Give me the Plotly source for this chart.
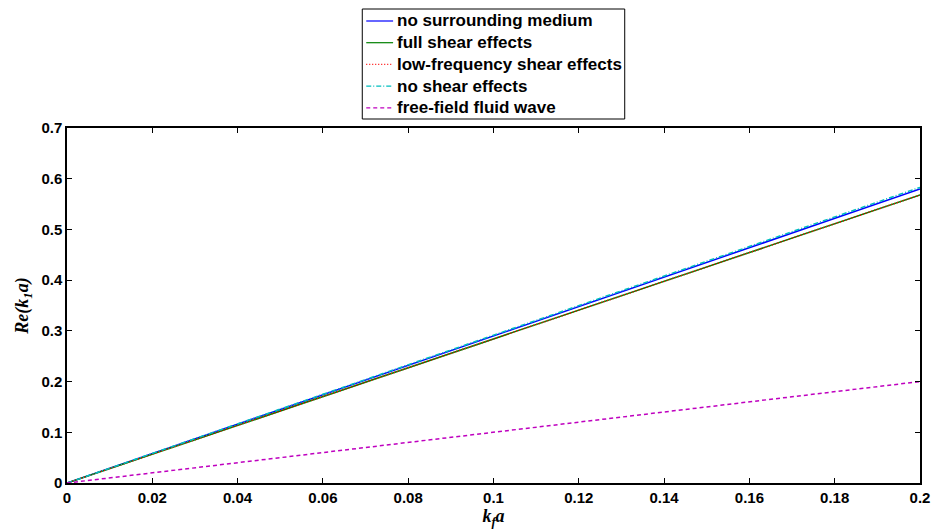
import plotly.graph_objects as go

# Non-dimensional frequency k_f a
ka = [0.0, 0.02, 0.04, 0.06, 0.08, 0.10, 0.12, 0.14, 0.16, 0.18, 0.20]

# Re(k_1 a) for each model
no_medium = [0.0, 0.058, 0.116, 0.174, 0.232, 0.290, 0.348, 0.406, 0.464, 0.522, 0.580]
full_shear = [0.0, 0.0568, 0.1136, 0.1704, 0.2272, 0.284, 0.3408, 0.3976, 0.4544, 0.5112, 0.568]
low_freq_shear = [0.0, 0.0568, 0.1136, 0.1704, 0.2272, 0.284, 0.3408, 0.3976, 0.4544, 0.5112, 0.568]
no_shear = [0.0, 0.0583, 0.1166, 0.1749, 0.2332, 0.2915, 0.3498, 0.4081, 0.4664, 0.5247, 0.583]
free_field = [0.0, 0.02, 0.04, 0.06, 0.08, 0.10, 0.12, 0.14, 0.16, 0.18, 0.20]

x_ticks = [0, 0.02, 0.04, 0.06, 0.08, 0.1, 0.12, 0.14, 0.16, 0.18, 0.2]
x_tick_labels = ["0", "0.02", "0.04", "0.06", "0.08", "0.1", "0.12", "0.14", "0.16", "0.18", "0.2"]
y_ticks = [0, 0.1, 0.2, 0.3, 0.4, 0.5, 0.6, 0.7]
y_tick_labels = ["0", "0.1", "0.2", "0.3", "0.4", "0.5", "0.6", "0.7"]

series = [
    ("no surrounding medium", no_medium, "#0000ff", "solid"),
    ("full shear effects", full_shear, "#008000", "solid"),
    ("low-frequency shear effects", low_freq_shear, "#ff0000", "1px,2px"),
    ("no shear effects", no_shear, "#00bfbf", "5px,2px,1px,2px"),
    ("free-field fluid wave", free_field, "#bf00bf", "4px,3px"),
]

# Plot area in pixels (used to place the boxed legend above the axes)
W, H = 942, 531
L, R, T, B = 67, 17, 128, 48
pw, ph = W - L - R, H - T - B


def px_x(px):
    return (px - L) / pw


def px_y(py):
    return (H - B - py) / ph


fig = go.Figure()
for name, vals, color, dash in series:
    fig.add_trace(go.Scatter(
        x=ka, y=vals, mode="lines", name=name, showlegend=False,
        line=dict(color=color, width=1.5, dash=dash),
    ))

# Boxed legend
shapes = [dict(type="rect", xref="paper", yref="paper",
               x0=px_x(364), x1=px_x(628), y0=px_y(119), y1=px_y(9),
               line=dict(color="black", width=1), fillcolor="white", layer="above")]
annotations = []
row0, row_step = 21, 21.7
for i, (name, vals, color, dash) in enumerate(series):
    ry = row0 + i * row_step
    shapes.append(dict(type="line", xref="paper", yref="paper",
                       x0=px_x(368), x1=px_x(395), y0=px_y(ry), y1=px_y(ry),
                       line=dict(color=color, width=1.2, dash=dash), layer="above"))
    annotations.append(dict(xref="paper", yref="paper", x=px_x(397), y=px_y(ry),
                            xanchor="left", yanchor="middle", showarrow=False, text=name,
                            font=dict(family="Liberation Sans, Arial, sans-serif", size=17,
                                      color="black", weight="bold")))

axis_font = dict(family="Liberation Sans, Arial, sans-serif", size=15, color="black", weight="bold")
title_font = dict(family="Liberation Serif, Times New Roman, serif", size=18, color="black", weight="bold")

fig.update_layout(
    width=W, height=H,
    margin=dict(l=L, r=R, t=T, b=B),
    paper_bgcolor="white", plot_bgcolor="white",
    showlegend=False,
    shapes=shapes, annotations=annotations,
    xaxis=dict(
        range=[0, 0.2], tickvals=x_ticks, ticktext=x_tick_labels,
        ticks="inside", ticklen=5, tickcolor="black", tickwidth=1,
        showline=True, linecolor="black", linewidth=1.5, mirror="ticks",
        showgrid=False, zeroline=False,
        tickfont=axis_font,
        title=dict(text="<i>k<sub>f</sub>a</i>", standoff=0, font=title_font),
    ),
    yaxis=dict(
        range=[0, 0.7], tickvals=y_ticks, ticktext=y_tick_labels,
        ticks="inside", ticklen=5, tickcolor="black", tickwidth=1,
        showline=True, linecolor="black", linewidth=1.5, mirror="ticks",
        showgrid=False, zeroline=False,
        tickfont=axis_font,
        title=dict(text="<i>Re(k<sub>1</sub>a)</i>", standoff=8, font=title_font),
    ),
)

fig.write_html("out.html")
